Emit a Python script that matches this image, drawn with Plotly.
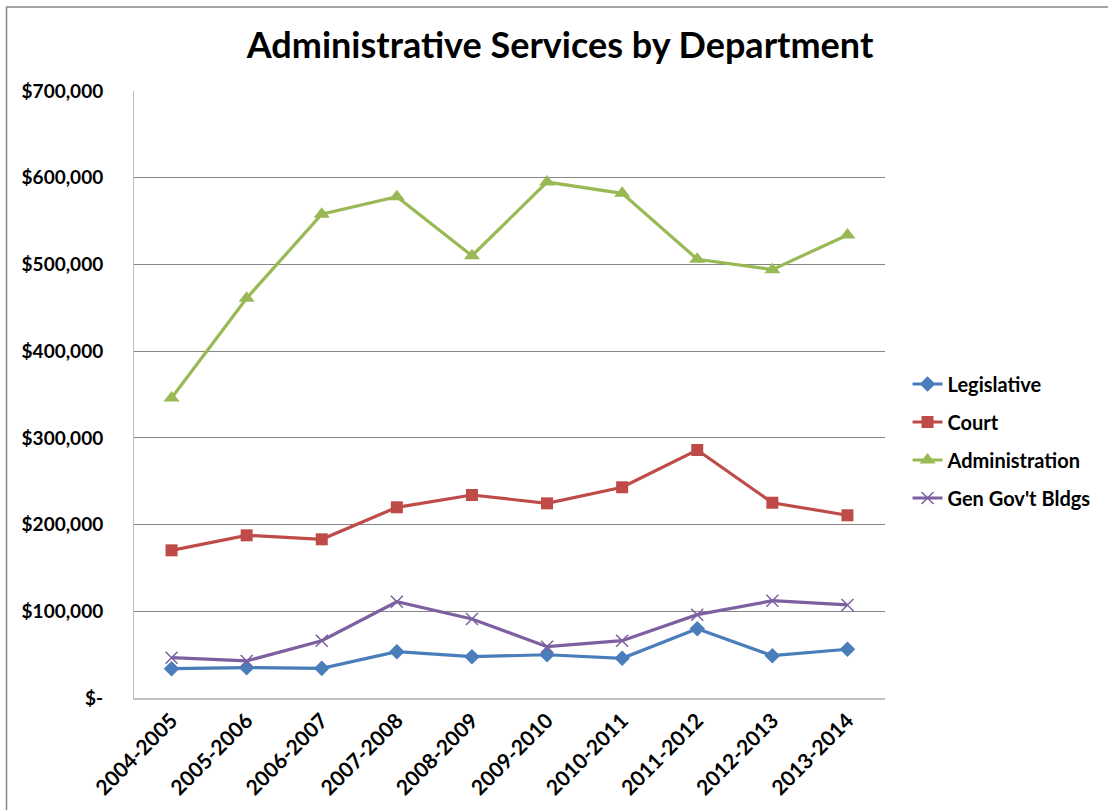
import plotly.graph_objects as go

years = ["2004-2005", "2005-2006", "2006-2007", "2007-2008", "2008-2009",
         "2009-2010", "2010-2011", "2011-2012", "2012-2013", "2013-2014"]
legislative = [33800, 35000, 34200, 53400, 47600, 49900, 45800, 79900, 48800, 56200]
court = [170300, 187600, 183000, 219900, 234100, 224500, 243000, 286000, 225200, 210700]
administration = [346000, 461000, 558000, 578000, 510000, 595000, 582000, 506000, 494000, 534000]
gen_gov = [46500, 42700, 66100, 111000, 91100, 59200, 66100, 96100, 112200, 107300]

y_tickvals = [0, 100000, 200000, 300000, 400000, 500000, 600000, 700000]
y_ticktext = ["$-", "$100,000", "$200,000", "$300,000", "$400,000", "$500,000", "$600,000", "$700,000"]

FONT = "Lato"
series = [
    ("Legislative", legislative, "#4A7EBB", "diamond", 12, 0),
    ("Court", court, "#BE4B48", "square", 12, 0),
    ("Administration", administration, "#98B954", "triangle-up", 14, 0),
    ("Gen Gov't Bldgs", gen_gov, "#7D60A0", "x-thin", 12, 1.5),
]

fig = go.Figure()
for i, (name, vals, color, sym, size, lw) in enumerate(series):
    fig.add_trace(go.Scatter(
        x=years, y=vals, name=name, mode="lines+markers",
        legendgroup=f"g{i}",
        line=dict(color=color, width=3.2),
        marker=dict(symbol=sym, size=size, color=color,
                    line=dict(color=color, width=lw)),
    ))

fig.update_layout(
    width=1108, height=810,
    margin=dict(l=134, r=220, t=91, b=112),
    paper_bgcolor="white", plot_bgcolor="white",
    font=dict(family=FONT, color="black"),
    title=dict(text="Administrative Services by Department",
               x=560 / 1108, xanchor="center", y=1 - 45 / 810, yanchor="middle",
               font=dict(family=FONT, size=36, weight="bold", color="black")),
    legend=dict(x=1.03, xanchor="left", y=(698 - 441) / 607, yanchor="middle",
                font=dict(family=FONT, size=20, weight="bold", color="black"),
                tracegroupgap=9, bgcolor="rgba(0,0,0,0)"),
    showlegend=True,
)
fig.update_xaxes(
    type="category", range=[-0.5, 9.5], showgrid=False,
    showline=True, linecolor="#BFBFBF", linewidth=2,
    tickangle=-45, ticks="",
    tickfont=dict(family=FONT, size=21, weight="bold", color="black"),
)
fig.update_yaxes(
    range=[0, 700000], tickvals=y_tickvals, ticktext=y_ticktext,
    showgrid=True, gridcolor="#868686", gridwidth=1,
    showline=True, linecolor="#BFBFBF", linewidth=1, ticks="",
    zeroline=False, ticklabelstandoff=26,
    tickfont=dict(family=FONT, size=19, weight="bold", color="black"),
)
# chart area border
fig.add_shape(type="rect", xref="paper", yref="paper",
              x0=(6 - 134) / 754, x1=(1120 - 134) / 754,
              y0=(698 - 830) / 607, y1=(698 - 7) / 607,
              line=dict(color="#868686", width=1.5), fillcolor="rgba(0,0,0,0)",
              layer="below")

fig.write_html("out.html")
